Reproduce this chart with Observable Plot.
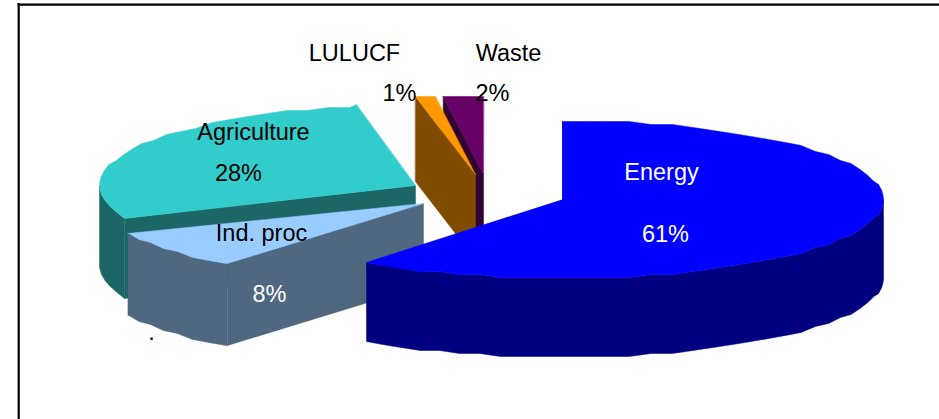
<!DOCTYPE html>
<html>
<head>
<meta charset="utf-8">
<style>
  html, body { margin: 0; padding: 0; background: #fff; }
  svg { display: block; }
</style>
<script src="https://cdn.jsdelivr.net/npm/d3@7"></script>
<script src="https://cdn.jsdelivr.net/npm/@observablehq/plot@0.6"></script>
</head>
<body>
<script>
// Emissions by source, percent of total, clockwise from twelve o'clock.
const sources = ["Energy", "Ind. proc", "Agriculture", "LULUCF", "Waste"];
const shares = [61, 8, 28, 1, 2];

// Slice colours: lit top and shaded walls.
const topColors = ["#0000ff", "#99ccff", "#33cccc", "#ff9900", "#660066"];
const wallColors = ["#000080", "#4f6880", "#1c6666", "#804d00", "#330033"];
const labelColors = ["#fff", "#000", "#000", "#000", "#000"];
const shareColors = ["#fff", "#fff", "#000", "#000", "#000"];

// Exploded slice hubs on the page, radii and wall heights.
const hubX = [562, 423, 415, 475, 483];
const hubY = [199, 203, 185, 174, 174];
const radiusX = [321, 321, 316, 321, 321];
const radiusY = [79, 76, 81, 79, 79];
const wallHeight = [79, 82, 80, 85, 80];

// Text anchors for the name and the percentage of each slice.
const nameX = [661, 261, 253, 354, 508];
const nameY = [179, 240, 139, 60, 60];
const shareX = [665, 269, 238, 399, 492];
const shareY = [241, 301, 180, 100, 100];

const arcStep = 4;   // coarse polygon rim
const rimGrain = 3;  // rim heights snap to this many pixels

// Start and end angle of every slice, in degrees.
const ends = d3.cumsum(shares).map((v) => (v / d3.sum(shares)) * 360);
const slices = sources.map((name, i) => ({i, name, a0: i ? ends[i - 1] : 0, a1: ends[i]}));

// The front-left quadrant of the tilted disc is slightly compressed.
const warp = (a) => (a > 180 && a < 270 ? a - 2 * Math.sin(((a - 180) * 2 * Math.PI) / 180) : a);

function rimPoint(i, a) {
  const t = (warp(a) * Math.PI) / 180;
  return {
    x: hubX[i] + radiusX[i] * Math.sin(t),
    y: hubY[i] - Math.round((radiusY[i] * Math.cos(t)) / rimGrain) * rimGrain
  };
}

function arc(i, a0, a1) {
  const angles = d3.range(Math.ceil(a0 / arcStep) * arcStep, a1, arcStep);
  return [a0, ...angles.filter((a) => a > a0), a1].map((a) => rimPoint(i, a));
}

function drop(points, h) {
  return points.map((p) => ({x: p.x, y: p.y + h}));
}

const faces = [];
function addFace(id, fill, points) {
  for (const p of points) faces.push({...p, id, fill});
}

// Each slice: cut wall at its starting edge, outer wall, then the top.
function addSlice({i, a0, a1}) {
  const hub = {x: hubX[i], y: hubY[i]};
  const h = wallHeight[i];
  const first = rimPoint(i, a0);
  addFace(`cut-${i}`, wallColors[i], [first, hub, ...drop([hub, first], h)]);
  const f0 = Math.max(a0, 90);
  const f1 = Math.min(a1, 270);
  if (f1 > f0) {
    const front = arc(i, f0, f1);
    addFace(`wall-${i}`, wallColors[i], [...front, ...drop(front, h).reverse()]);
  }
  addFace(`top-${i}`, topColors[i], [hub, ...arc(i, a0, a1)]);
}

// Painted from the back of the scene to the front.
[2, 1, 4, 3, 0].forEach((i) => addSlice(slices[i]));

const names = slices.map(({i, name}) => ({name, x: nameX[i], y: nameY[i], color: labelColors[i]}));
const values = slices.map(({i}) => ({
  text: `${shares[i]}%`, x: shareX[i], y: shareY[i], color: shareColors[i]
}));

const textOptions = {
  x: "x",
  y: "y",
  fill: "color",
  fontFamily: "Liberation Sans, Arial, sans-serif",
  fontSize: 23.5,
  textAnchor: "middle",
  lineAnchor: "bottom"
};

const chart = Plot.plot({
  width: 939,
  height: 419,
  margin: 0,
  x: {domain: [0, 939], range: [0, 939], axis: null},
  y: {domain: [0, 419], range: [0, 419], axis: null},
  color: {type: "identity"},
  marks: [
    Plot.ruleY([4.2], {x1: 17.5, x2: 939, stroke: "#000", strokeWidth: 2.2}),
    Plot.ruleX([18.2], {y1: 3, y2: 419, stroke: "#000", strokeWidth: 2.2}),
    Plot.line(faces, {
      x: "x", y: "y", z: "id", fill: "fill", stroke: "fill",
      strokeWidth: 0.5, curve: "linear-closed"
    }),
    Plot.text(names, {...textOptions, text: "name"}),
    Plot.text(values, {...textOptions, text: "text"}),
    Plot.text(["."], {
      x: [151], y: [339], fill: "#000",
      fontFamily: textOptions.fontFamily, fontSize: textOptions.fontSize,
      textAnchor: "middle", lineAnchor: "bottom"
    })
  ]
});
document.body.append(chart);
</script>
</body>
</html>
